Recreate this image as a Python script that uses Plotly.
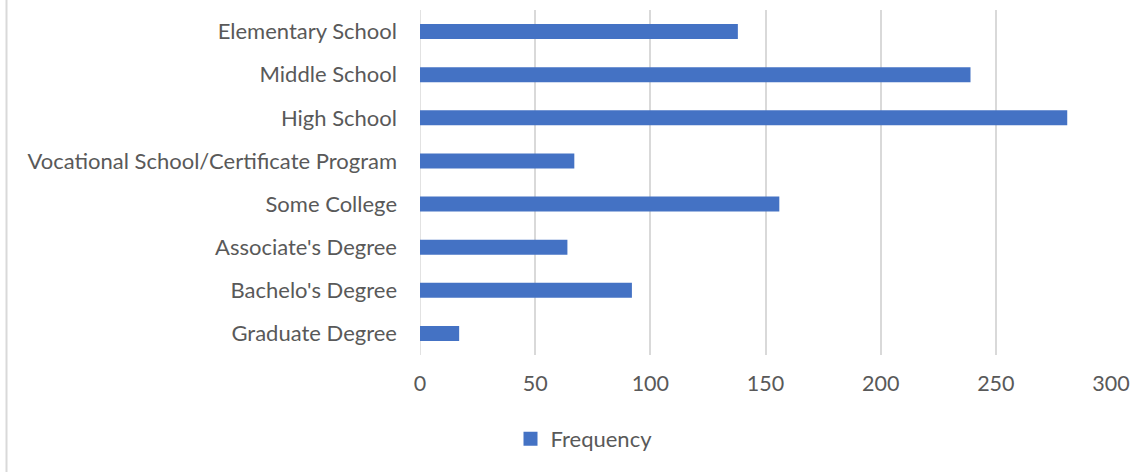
import plotly.graph_objects as go

categories = [
    "Elementary School",
    "Middle School",
    "High School",
    "Vocational School/Certificate Program",
    "Some College",
    "Associate's Degree",
    "Bachelo's Degree",
    "Graduate Degree",
]
frequency = [138, 239, 281, 67, 156, 64, 92, 17]
x_ticks = [0, 50, 100, 150, 200, 250, 300]

W, H = 1143, 472
L, R, T, B = 420, 32, 10, 117
pw = W - L - R
ph = H - T - B

fig = go.Figure()
fig.add_trace(go.Bar(
    y=categories,
    x=frequency,
    orientation="h",
    name="Frequency",
    marker=dict(color="#4472C4", line=dict(width=0)),
    showlegend=False,
))
# legend entry with a larger square swatch
fig.add_trace(go.Scatter(
    x=[None], y=[None],
    mode="markers",
    name="Frequency",
    marker=dict(symbol="square", size=14, color="#4472C4"),
    showlegend=True,
))

font_family = "Lato, 'Open Sans', sans-serif"
FS = 22
fig.update_layout(
    width=W, height=H,
    margin=dict(l=L, r=R, t=T, b=B, pad=0),
    paper_bgcolor="white",
    plot_bgcolor="white",
    bargap=0.65,
    font=dict(family=font_family, size=FS, color="#595959"),
    showlegend=True,
    legend=dict(
        orientation="h",
        x=(584 - L) / pw, xanchor="center",
        y=(T + ph - 439) / ph, yanchor="middle",
        font=dict(size=FS, color="#595959"),
        itemwidth=30,
        bgcolor="rgba(0,0,0,0)",
    ),
    xaxis=dict(
        range=[0, 300],
        tickvals=x_ticks,
        ticktext=[str(v) for v in x_ticks],
        showgrid=True,
        gridcolor="#d9d9d9",
        gridwidth=1.5,
        zeroline=False,
        showline=False,
        ticks="",
        ticklabelstandoff=13,
        tickfont=dict(size=FS - 0.5, color="#595959"),
        fixedrange=True,
    ),
    yaxis=dict(
        categoryorder="array",
        categoryarray=categories,
        autorange="reversed",
        showgrid=False,
        zeroline=False,
        showline=False,
        ticks="",
        ticklabelstandoff=22,
        tickfont=dict(size=FS, color="#595959"),
        fixedrange=True,
    ),
    shapes=[
        dict(type="line", xref="paper", yref="paper",
             x0=(6.5 - L) / pw, x1=(6.5 - L) / pw,
             y0=(T + ph - 0) / ph, y1=(T + ph - H) / ph,
             line=dict(color="#d9d9d9", width=2)),
        dict(type="line", xref="x", yref="paper",
             x0=0, x1=0, y0=0, y1=1,
             line=dict(color="#d9d9d9", width=1.5), layer="below"),
    ],
)

fig.write_html("out.html")
